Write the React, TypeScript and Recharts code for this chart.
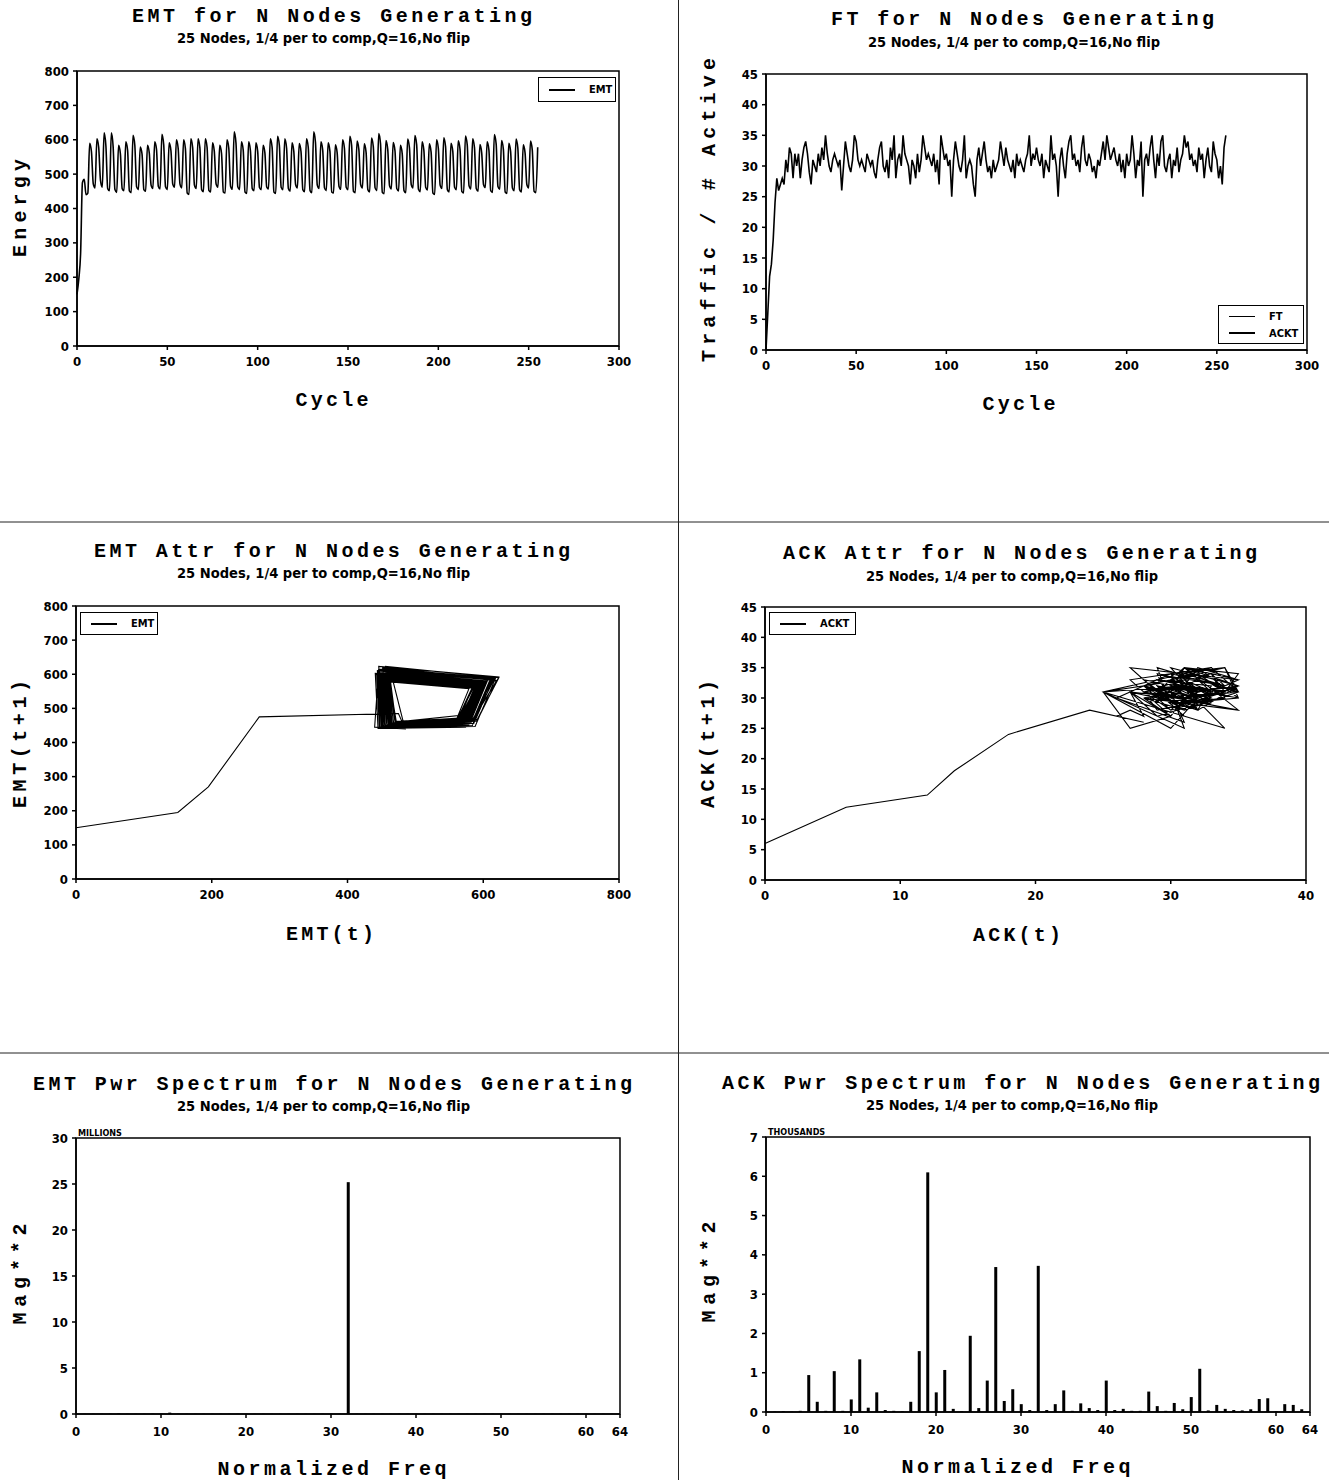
import React from 'react'
import { LineChart, Line, BarChart, Bar, XAxis, YAxis, ReferenceArea } from 'recharts'

// EMT energy per cycle (cycles 0..255)
const emtSeries = [
  150, 195, 270, 475, 485, 440, 445,
  590, 565, 472, 460, 603, 578, 482, 462, 620, 582, 458, 452, 620, 580, 455, 447,
  584, 560, 458, 452, 594, 570, 451, 446, 613, 584, 463, 455, 579, 558, 455, 450,
  584, 562, 468, 458, 594, 572, 465, 457, 616, 585, 463, 455, 591, 568, 471, 462,
  600, 575, 471, 460, 600, 574, 445, 441, 603, 578, 468, 458, 603, 577, 455, 449,
  603, 578, 453, 448, 591, 566, 471, 462, 584, 560, 448, 445, 600, 576, 465, 456,
  623, 590, 463, 455, 594, 570, 448, 444, 594, 568, 458, 452, 591, 567, 461, 455,
  584, 562, 463, 457, 603, 578, 448, 444, 610, 584, 462, 455, 603, 576, 458, 450,
  591, 566, 470, 460, 589, 565, 455, 449, 603, 578, 452, 446, 623, 592, 468, 458,
  594, 570, 460, 452, 591, 566, 448, 445, 585, 562, 465, 456, 600, 576, 462, 455,
  610, 584, 450, 446, 596, 572, 470, 460, 588, 564, 455, 448, 605, 580, 460, 452,
  618, 588, 447, 443, 598, 572, 466, 457, 592, 568, 458, 451, 584, 560, 452, 446,
  602, 577, 470, 460, 612, 586, 456, 449, 594, 569, 462, 454, 588, 564, 445, 441,
  600, 575, 468, 458, 606, 580, 455, 448, 590, 566, 462, 455, 597, 572, 450, 445,
  611, 585, 466, 457, 603, 577, 458, 450, 586, 562, 470, 461, 594, 570, 452, 447,
  615, 588, 464, 456, 598, 572, 448, 444, 590, 566, 460, 452, 602, 576, 455, 448,
  585, 562, 470, 460, 596, 570, 450, 446, 578,
]

// ACKT traffic per cycle (cycles 0..255)
const ackSeries = [
  0, 6, 12, 14, 18, 24, 28, 26, 27, 28, 27, 31, 29, 33, 32, 28,
  32, 30, 32, 28, 31, 33, 34, 32, 29, 27, 31, 30, 29, 32, 30, 33,
  31, 35, 32, 30, 29, 31, 32, 31, 30, 31, 26, 30, 34, 32, 30, 29,
  31, 35, 34, 31, 30, 31, 30, 29, 32, 31, 30, 31, 29, 28, 31, 33,
  34, 30, 29, 31, 28, 33, 31, 35, 28, 31, 32, 30, 35, 32, 31, 30,
  27, 31, 30, 28, 32, 29, 31, 35, 33, 31, 32, 31, 30, 32, 29, 31,
  27, 35, 33, 31, 32, 30, 31, 25, 31, 34, 32, 30, 29, 31, 35, 28,
  30, 31, 30, 27, 25, 31, 33, 30, 32, 34, 31, 29, 30, 28, 31, 29,
  30, 31, 34, 32, 30, 33, 31, 30, 29, 31, 28, 32, 30, 31, 30, 29,
  31, 32, 35, 30, 32, 31, 33, 31, 30, 32, 28, 31, 30, 29, 35, 31,
  32, 30, 25, 31, 33, 30, 28, 32, 34, 35, 31, 32, 30, 31, 29, 33,
  35, 31, 30, 32, 31, 29, 30, 28, 31, 30, 32, 34, 31, 35, 33, 31,
  32, 33, 31, 30, 32, 29, 31, 28, 32, 30, 31, 35, 32, 28, 31, 30,
  34, 25, 31, 32, 30, 33, 35, 31, 28, 32, 30, 34, 35, 30, 29, 31,
  32, 28, 31, 30, 33, 29, 31, 32, 35, 33, 34, 31, 32, 30, 31, 29,
  33, 31, 32, 28, 31, 33, 30, 29, 34, 32, 31, 28, 30, 27, 33, 35,
]

// power spectra, one value per normalized freq 0..64
const emtSpectrum = [
  0.02, 0.02, 0.02, 0.02, 0.03, 0.06, 0.02, 0.02, 0.02, 0.03, 0.03, 0.15, 0.02, 0.02, 0.02, 0.02,
  0.02, 0.02, 0.02, 0.02, 0.02, 0.02, 0.02, 0.02, 0.02, 0.02, 0.02, 0.02, 0.02, 0.02, 0.02, 0.02,
  25.2, 0.02, 0.02, 0.02, 0.02, 0.02, 0.02, 0.02, 0.02, 0.02, 0.02, 0.02, 0.02, 0.02, 0.02, 0.02,
  0.02, 0.02, 0.02, 0.02, 0.02, 0.02, 0.02, 0.02, 0.02, 0.02, 0.02, 0.02, 0.02, 0.02, 0.02, 0.02,
  0,
]
const ackSpectrum = [
  0.01, 0.01, 0.02, 0.01, 0.03, 0.94, 0.26, 0.03, 1.04, 0.03, 0.32, 1.34, 0.11, 0.5, 0.05, 0.03,
  0.02, 0.26, 1.55, 6.1, 0.5, 1.07, 0.08, 0.02, 1.94, 0.1, 0.8, 3.69, 0.28, 0.58, 0.2, 0.05,
  3.72, 0.05, 0.2, 0.55, 0.03, 0.22, 0.1, 0.05, 0.8, 0.05, 0.08, 0.03, 0.03, 0.52, 0.15, 0.03,
  0.23, 0.07, 0.38, 1.1, 0.04, 0.18, 0.08, 0.05, 0.04, 0.07, 0.33, 0.35, 0.02, 0.2, 0.18, 0.07,
  0,
]

const cycleTicks = [0, 50, 100, 150, 200, 250, 300]
const emtTicks = [0, 100, 200, 300, 400, 500, 600, 700, 800]
const ackTicks = [0, 5, 10, 15, 20, 25, 30, 35, 40, 45]
const emtAttrXTicks = [0, 200, 400, 600, 800]
const ackAttrXTicks = [0, 10, 20, 30, 40]
const freqTicks = [0, 10, 20, 30, 40, 50, 60, 64]
const millionTicks = [0, 5, 10, 15, 20, 25, 30]
const thousandTicks = [0, 1, 2, 3, 4, 5, 6, 7]

const subtitle = '25 Nodes, 1/4 per to comp,Q=16,No flip'

const emtTime = emtSeries.map((v, i) => ({ c: i, emt: v }))
const ackTime = ackSeries.map((v, i) => ({ c: i, ack: v }))
const emtAttr = emtSeries.map((v, i) => ({ x: i === 0 ? 0 : emtSeries[i - 1], y: v }))
const ackAttr = ackSeries.slice(1).map((v, i) => ({ x: ackSeries[i], y: v }))
const emtSpec = emtSpectrum.map((v, i) => ({ f: i, v }))
const ackSpec = ackSpectrum.map((v, i) => ({ f: i, v }))

const MONO = "'Liberation Mono', 'Courier New', monospace"
const NARROW = "'DejaVu Sans', sans-serif"

const tickStyle = { fill: '#000', fontSize: 13, fontWeight: 700, fontFamily: NARROW, fontStretch: 'condensed' }

type Box = { l: number; r: number; t: number; b: number }

const frame = (box: Box) => ({
  position: 'absolute' as const,
  left: box.l - 60,
  top: box.t - 10,
})

const size = (box: Box) => ({ width: box.r - box.l + 80, height: box.b - box.t + 40 })
const margin = { top: 10, right: 20, left: 0, bottom: 0 }

const axisProps = {
  stroke: '#000',
  strokeWidth: 1.5,
  tick: tickStyle,
  tickSize: 4,
  interval: 0 as const,
}

const TimeChart = ({ box, data, dataKey, yDomain, yTicks, curve }: any) => (
  <div style={frame(box)}>
    <LineChart {...size(box)} data={data} margin={margin}>
      <XAxis type="number" dataKey="c" domain={[0, 300]} ticks={cycleTicks} height={30} tickMargin={7} {...axisProps} />
      <YAxis type="number" domain={yDomain} ticks={yTicks} width={60} tickMargin={4} {...axisProps} />
      <ReferenceArea x1={0} x2={300} y1={yDomain[0]} y2={yDomain[1]} fill="none" stroke="#000" strokeWidth={1.5} />
      <Line type={curve} dataKey={dataKey} stroke="#000" strokeWidth={1.6} dot={false} isAnimationActive={false} />
    </LineChart>
  </div>
)

const AttrChart = ({ box, data, xDomain, xTicks, yDomain, yTicks }: any) => (
  <div style={frame(box)}>
    <LineChart {...size(box)} data={data} margin={margin}>
      <XAxis type="number" dataKey="x" domain={xDomain} ticks={xTicks} height={30} tickMargin={7} {...axisProps} />
      <YAxis type="number" domain={yDomain} ticks={yTicks} width={60} tickMargin={4} {...axisProps} />
      <ReferenceArea x1={xDomain[0]} x2={xDomain[1]} y1={yDomain[0]} y2={yDomain[1]} fill="none" stroke="#000" strokeWidth={1.5} />
      <Line dataKey="y" stroke="#000" strokeWidth={1.1} dot={false} isAnimationActive={false} />
    </LineChart>
  </div>
)

const SpecChart = ({ box, data, yDomain, yTicks }: any) => (
  <div style={frame(box)}>
    <BarChart {...size(box)} data={data} margin={margin}>
      <XAxis type="number" dataKey="f" domain={[0, 64]} ticks={freqTicks} height={30} tickMargin={9} {...axisProps} />
      <YAxis type="number" domain={yDomain} ticks={yTicks} width={60} tickMargin={4} {...axisProps} />
      <ReferenceArea x1={0} x2={64} y1={yDomain[0]} y2={yDomain[1]} fill="none" stroke="#000" strokeWidth={1.5} />
      <Bar dataKey="v" fill="#000" barSize={3} isAnimationActive={false} />
    </BarChart>
  </div>
)

const LegendBox = ({ x, y, w, h, items }: any) => (
  <div
    style={{
      position: 'absolute', left: x, top: y, width: w, height: h, boxSizing: 'border-box',
      border: '1.5px solid #000', background: '#fff', fontFamily: NARROW, fontStretch: 'condensed',
      fontWeight: 700, fontSize: 11, display: 'flex', flexDirection: 'column', justifyContent: 'center', gap: 4,
    }}
  >
    {items.map((it: any) => (
      <div key={it.name} style={{ display: 'flex', alignItems: 'center', paddingLeft: 10 }}>
        <div style={{ width: 26, borderTop: `${it.thin ? 1 : 2}px solid #000` }} />
        <span style={{ marginLeft: 14 }}>{it.name}</span>
      </div>
    ))}
  </div>
)

const Title = ({ x1, x2, y, text }: any) => (
  <text x={x1} y={y + 6} textLength={x2 - x1} lengthAdjust="spacing"
    style={{ fontFamily: MONO, fontSize: 20, fontWeight: 700 }}>{text}</text>
)
const Sub = ({ x1, x2, y }: any) => (
  <text x={x1} y={y + 5} textLength={x2 - x1} lengthAdjust="spacingAndGlyphs"
    style={{ fontFamily: NARROW, fontStretch: 'condensed', fontSize: 14, fontWeight: 700 }}>{subtitle}</text>
)
const XLab = ({ x, y, text, len }: any) => (
  <text x={x} y={y + 6} textAnchor="middle" textLength={len} lengthAdjust="spacing"
    style={{ fontFamily: MONO, fontSize: 20, fontWeight: 700 }}>{text}</text>
)
const YLab = ({ x, y, text, len }: any) => (
  <text x={x} y={y} transform={`rotate(-90 ${x} ${y})`} dy={6} textAnchor="middle" textLength={len}
    lengthAdjust="spacing" style={{ fontFamily: MONO, fontSize: 20, fontWeight: 700 }}>{text}</text>
)

const b1 = { l: 77, r: 619, t: 71, b: 346 }
const b2 = { l: 766, r: 1307, t: 74, b: 350 }
const b3 = { l: 76, r: 619, t: 606, b: 879 }
const b4 = { l: 765, r: 1306, t: 607, b: 880 }
const b5 = { l: 76, r: 620, t: 1138, b: 1414 }
const b6 = { l: 766, r: 1310, t: 1137, b: 1412 }

export default function App() {
  return (
    <div style={{ position: 'absolute', left: 0, top: 0, width: 1329, height: 1480, background: '#fff' }}>
      <TimeChart box={b1} data={emtTime} dataKey="emt" yDomain={[0, 800]} yTicks={emtTicks} curve="monotone" />
      <TimeChart box={b2} data={ackTime} dataKey="ack" yDomain={[0, 45]} yTicks={ackTicks} curve="linear" />
      <AttrChart box={b3} data={emtAttr} xDomain={[0, 800]} xTicks={emtAttrXTicks} yDomain={[0, 800]} yTicks={emtTicks} />
      <AttrChart box={b4} data={ackAttr} xDomain={[0, 40]} xTicks={ackAttrXTicks} yDomain={[0, 45]} yTicks={ackTicks} />
      <SpecChart box={b5} data={emtSpec} yDomain={[0, 30]} yTicks={millionTicks} />
      <SpecChart box={b6} data={ackSpec} yDomain={[0, 7]} yTicks={thousandTicks} />

      <LegendBox x={538} y={77} w={78} h={25} items={[{ name: 'EMT' }]} />
      <LegendBox x={1218} y={305} w={86} h={39} items={[{ name: 'FT', thin: true }, { name: 'ACKT' }]} />
      <LegendBox x={80} y={612} w={78} h={23} items={[{ name: 'EMT' }]} />
      <LegendBox x={769} y={612} w={87} h={23} items={[{ name: 'ACKT' }]} />

      <svg width={1329} height={1480} style={{ position: 'absolute', left: 0, top: 0, pointerEvents: 'none' }}>
        <line x1={0} y1={522} x2={1329} y2={522} stroke="#222" strokeWidth={1} />
        <line x1={0} y1={1053} x2={1329} y2={1053} stroke="#222" strokeWidth={1} />
        <line x1={678.5} y1={0} x2={678.5} y2={1480} stroke="#222" strokeWidth={1} />

        <Title x1={132} x2={532} y={16} text="EMT for N Nodes Generating" />
        <Sub x1={177} x2={470} y={38} />
        <Title x1={831} x2={1214} y={19} text="FT for N Nodes Generating" />
        <Sub x1={868} x2={1160} y={42} />
        <Title x1={94} x2={570} y={551} text="EMT Attr for N Nodes Generating" />
        <Sub x1={177} x2={470} y={573} />
        <Title x1={783} x2={1257} y={553} text="ACK Attr for N Nodes Generating" />
        <Sub x1={866} x2={1158} y={576} />
        <Title x1={33} x2={632} y={1084} text="EMT Pwr Spectrum for N Nodes Generating" />
        <Sub x1={177} x2={470} y={1106} />
        <Title x1={722} x2={1320} y={1083} text="ACK Pwr Spectrum for N Nodes Generating" />
        <Sub x1={866} x2={1158} y={1105} />

        <YLab x={20} y={208} text="Energy" len={98} />
        <XLab x={332} y={400} text="Cycle" len={73} />
        <YLab x={709} y={210} text="Traffic / # Active" len={304} />
        <XLab x={1019} y={404} text="Cycle" len={73} />
        <YLab x={20} y={744} text="EMT(t+1)" len={128} />
        <XLab x={330} y={934} text="EMT(t)" len={88} />
        <YLab x={708} y={744} text="ACK(t+1)" len={128} />
        <XLab x={1017} y={935} text="ACK(t)" len={88} />
        <YLab x={20} y={1274} text="Mag**2" len={101} />
        <XLab x={332} y={1469} text="Normalized Freq" len={229} />
        <YLab x={709} y={1272} text="Mag**2" len={101} />
        <XLab x={1016} y={1467} text="Normalized Freq" len={229} />

        <text x={78} y={1136} style={{ fontFamily: NARROW, fontStretch: 'condensed', fontSize: 9, fontWeight: 700 }}>MILLIONS</text>
        <text x={768} y={1135} style={{ fontFamily: NARROW, fontStretch: 'condensed', fontSize: 9, fontWeight: 700 }}>THOUSANDS</text>
      </svg>
    </div>
  )
}
